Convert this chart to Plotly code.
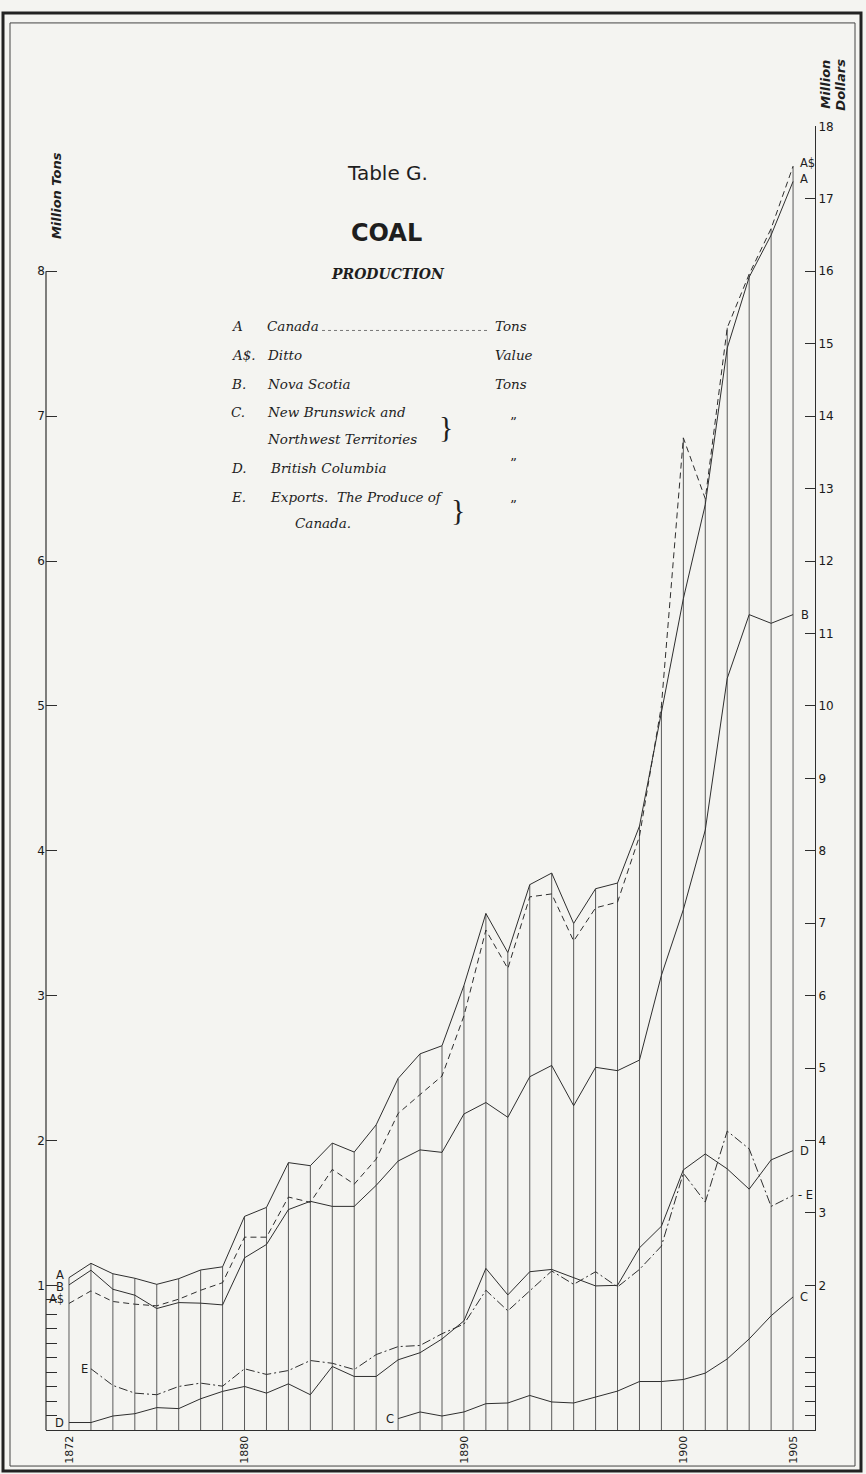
import plotly.graph_objects as go

# ---------------- data ----------------
years = list(range(1872, 1906))

# A  Canada, million tons
canada_tons = [1.053, 1.152, 1.080, 1.049, 1.007, 1.046, 1.106, 1.128, 1.476, 1.538,
               1.847, 1.826, 1.982, 1.920, 2.108, 2.428, 2.598, 2.654, 3.070, 3.567,
               3.297, 3.766, 3.846, 3.498, 3.738, 3.777, 4.170, 4.950, 5.740, 6.390,
               7.470, 7.960, 8.250, 8.620]

# A$  Canada, value, million dollars
canada_value = [1.750, 1.923, 1.777, 1.740, 1.717, 1.809, 1.932, 2.037, 2.665, 2.665,
                3.219, 3.146, 3.600, 3.397, 3.743, 4.373, 4.634, 4.890, 5.720, 6.905,
                6.374, 7.363, 7.404, 6.754, 7.212, 7.290, 8.200, 10.000, 13.700, 12.860,
                15.220, 15.960, 16.590, 17.450]

# B  Nova Scotia, million tons
nova_scotia = [1.003, 1.104, 0.973, 0.932, 0.840, 0.881, 0.877, 0.865, 1.190, 1.282,
               1.523, 1.580, 1.545, 1.545, 1.690, 1.858, 1.935, 1.918, 2.183, 2.262,
               2.160, 2.440, 2.518, 2.240, 2.505, 2.482, 2.555, 3.140, 3.594, 4.143,
               5.190, 5.630, 5.570, 5.630]

# C  New Brunswick and Northwest Territories, million tons
nb_nwt_years = list(range(1887, 1906))
nb_nwt = [0.080, 0.126, 0.098, 0.126, 0.183, 0.188, 0.240, 0.195, 0.188, 0.229,
          0.270, 0.336, 0.336, 0.350, 0.394, 0.492, 0.630, 0.790, 0.920]

# D  British Columbia, million tons
british_columbia = [0.053, 0.053, 0.098, 0.114, 0.156, 0.149, 0.217, 0.268, 0.302, 0.256,
                    0.320, 0.245, 0.440, 0.371, 0.371, 0.486, 0.535, 0.630, 0.755, 1.117,
                    0.934, 1.094, 1.110, 1.053, 0.996, 1.000, 1.259, 1.408, 1.797, 1.907,
                    1.804, 1.664, 1.866, 1.930]

# E  Exports, the produce of Canada, million tons
exports_years = list(range(1873, 1906))
exports = [0.424, 0.309, 0.256, 0.245, 0.302, 0.325, 0.304, 0.424, 0.385, 0.412,
           0.481, 0.462, 0.419, 0.522, 0.577, 0.585, 0.666, 0.733, 0.966, 0.824,
           0.962, 1.099, 1.007, 1.094, 0.989, 1.110, 1.271, 1.774, 1.575, 2.065,
           1.942, 1.545, 1.621]

year_ticks = [1872, 1880, 1890, 1900, 1905]
ton_ticks = [1, 2, 3, 4, 5, 6, 7, 8]
ton_minor = [0.1, 0.2, 0.3, 0.4, 0.5, 0.6, 0.7, 0.8, 0.9]
dollar_ticks = list(range(2, 19))
dollar_minor = [0.2, 0.4, 0.6, 0.8, 1.0]

# ---------------- geometry helpers ----------------
W, H = 866, 1474


def px(x):
    return x / W


def py(y):
    return 1 - y / H


INK = "#2e2e2e"
BG = "#f4f4f1"
SANS = "DejaVu Sans, Liberation Sans, sans-serif"
SERIF = "DejaVu Serif, Liberation Serif, serif"
TICKFONT = dict(family=SANS, size=12, color="#1a1a1a")
YEARFONT = dict(family=SANS, size=11, color="#1a1a1a")

fig = go.Figure()

# vertical year rules, from the base up to the highest curve of that year
vx, vy = [], []
for yr, a, v in zip(years, canada_tons, canada_value):
    vx += [yr, yr, None]
    vy += [0, max(a, v / 2.0), None]
fig.add_trace(go.Scatter(x=vx, y=vy, mode="lines", line=dict(color="#4a4a4a", width=0.9),
                         hoverinfo="skip", showlegend=False))

line_kw = dict(mode="lines", showlegend=False, hoverinfo="x+y")
fig.add_trace(go.Scatter(x=years, y=canada_tons, name="A", line=dict(color=INK, width=1), **line_kw))
fig.add_trace(go.Scatter(x=years, y=nova_scotia, name="B", line=dict(color=INK, width=1), **line_kw))
fig.add_trace(go.Scatter(x=nb_nwt_years, y=nb_nwt, name="C", line=dict(color=INK, width=1), **line_kw))
fig.add_trace(go.Scatter(x=years, y=british_columbia, name="D", line=dict(color=INK, width=1), **line_kw))
fig.add_trace(go.Scatter(x=exports_years, y=exports, name="E",
                         line=dict(color=INK, width=1, dash="9px,3px,2px,3px"), **line_kw))
fig.add_trace(go.Scatter(x=years, y=canada_value, name="A$", yaxis="y2",
                         line=dict(color=INK, width=1, dash="6px,4px"), **line_kw))

fig.update_layout(
    width=W, height=H,
    margin=dict(l=0, r=0, t=0, b=0),
    paper_bgcolor=BG, plot_bgcolor=BG,
    showlegend=False,
    xaxis=dict(domain=[px(46), px(815)], range=[1870.952, 1906.0],
               showgrid=False, zeroline=False, showline=True, linecolor=INK, linewidth=1.2,
               tickvals=year_ticks, ticktext=[str(t) for t in year_ticks],
               tickangle=-90, ticks="", tickfont=YEARFONT),
    yaxis=dict(domain=[py(1430), py(120)], range=[0, 9],
               showgrid=False, zeroline=False, showline=False,
               tickvals=ton_minor + ton_ticks,
               ticktext=[""] * len(ton_minor) + [str(t) for t in ton_ticks],
               ticks="inside", ticklen=11, tickwidth=1, tickcolor=INK,
               tickfont=TICKFONT),
    yaxis2=dict(overlaying="y", side="right", anchor="x", range=[0, 18],
                showgrid=False, zeroline=False, showline=True, linecolor=INK, linewidth=1,
                tickvals=dollar_minor + dollar_ticks,
                ticktext=[""] * len(dollar_minor) + [str(t) for t in dollar_ticks],
                ticks="inside", ticklen=10, tickwidth=1, tickcolor=INK,
                tickfont=TICKFONT),
)

shapes = [
    # left axis (tons) up to 8
    dict(type="line", xref="paper", yref="y", x0=px(46), x1=px(46), y0=0, y1=8,
         line=dict(color=INK, width=1.2)),
    # frame: outer heavy + inner thin
    dict(type="rect", xref="paper", yref="paper", x0=px(3), x1=px(861), y0=py(1471), y1=py(6),
         line=dict(color="#222", width=3)),
    dict(type="rect", xref="paper", yref="paper", x0=px(10), x1=px(855), y0=py(1466), y1=py(16),
         line=dict(color="#444", width=1)),
    # dotted leader in the key
    dict(type="line", xref="paper", yref="paper", x0=px(322), x1=px(490), y0=py(325), y1=py(325),
         line=dict(color="#777", width=1, dash="dot")),
]
fig.update_layout(shapes=shapes)

ann = []


def txt(x, y, s, size=13, family=SERIF, xanchor="left", angle=0, color="#1e1e1e"):
    ann.append(dict(x=px(x), y=py(y), xref="paper", yref="paper", text=s, showarrow=False,
                    xanchor=xanchor, yanchor="middle", textangle=angle,
                    font=dict(family=family, size=size, color=color)))


# titles
txt(387, 167, "Table G.", size=20, family=SANS, xanchor="center")
txt(386, 227, "<b>COAL</b>", size=24, family=SANS, xanchor="center")
txt(388, 268, "<b><i>PRODUCTION</i></b>", size=14, family=SERIF, xanchor="center")

# key
KS = 13.5
rows = [
    (321, "<i>A</i>", "<i>Canada</i>", 265, "<i>Tons</i>"),
    (350, "<i>A$.</i>", "<i>Ditto</i>", 265, "<i>Value</i>"),
    (379, "<i>B.</i>", "<i>Nova Scotia</i>", 265, "<i>Tons</i>"),
    (407, "<i>C.</i>", "<i>New Brunswick and</i>", 265, None),
    (463, "<i>D.</i>", "<i>British Columbia</i>", 268, None),
    (492, "<i>E.</i>", "<i>Exports.  The Produce of</i>", 268, None),
]
for y, code, name, nx, unit in rows:
    txt(229, y, code, size=KS)
    txt(nx, y, name, size=KS)
    if unit:
        txt(493, y, unit, size=KS)
txt(265, 434, "<i>Northwest Territories</i>", size=KS)
txt(293, 518, "<i>Canada.</i>", size=KS)
txt(446, 421, "}", size=30, family="Liberation Serif, serif", xanchor="center")
txt(458, 505, "}", size=30, family="Liberation Serif, serif", xanchor="center")
for y in (417, 458, 500):
    txt(513, y, "\u201d", size=KS, xanchor="center")

# axis titles
txt(56, 190, "<b><i>Million Tons</i></b>", size=13, family=SANS, xanchor="center", angle=-90)
txt(826, 78, "<b><i>Million</i></b>", size=13, family=SANS, xanchor="center", angle=-90)
txt(841, 78, "<b><i>Dollars</i></b>", size=13, family=SANS, xanchor="center", angle=-90)


def series_label(x, y, s, yref="y", xanchor="right", xshift=-3, yshift=0):
    ann.append(dict(x=x, y=y, xref="x", yref=yref, text=s, showarrow=False,
                    xanchor=xanchor, yanchor="middle", xshift=xshift, yshift=yshift,
                    font=dict(family=SANS, size=11.5, color="#1e1e1e")))


# left-hand curve letters
series_label(years[0], canada_tons[0], "A", yshift=3)
series_label(years[0], nova_scotia[0], "B", yshift=-2)
series_label(years[0], canada_value[0], "A$", yref="y2", yshift=4)
series_label(exports_years[0], exports[0], "E", xshift=-1)
series_label(years[0], british_columbia[0], "D")
series_label(nb_nwt_years[0], nb_nwt[0], "C", xshift=-2)
# right-hand curve letters
series_label(years[-1], canada_value[-1], "A$", yref="y2", xanchor="left", xshift=5, yshift=3)
series_label(years[-1], canada_tons[-1], "A", xanchor="left", xshift=5, yshift=2)
series_label(years[-1], nova_scotia[-1], "B", xanchor="left", xshift=6)
series_label(years[-1], british_columbia[-1], "D", xanchor="left", xshift=5)
series_label(years[-1], exports[-1], "- E", xanchor="left", xshift=3)
series_label(years[-1], nb_nwt[-1], "C", xanchor="left", xshift=5)

fig.update_layout(annotations=ann)

fig.write_html("out.html", config={"displayModeBar": False},
               post_script="document.body.style.margin='0';document.body.style.overflow='hidden';")
